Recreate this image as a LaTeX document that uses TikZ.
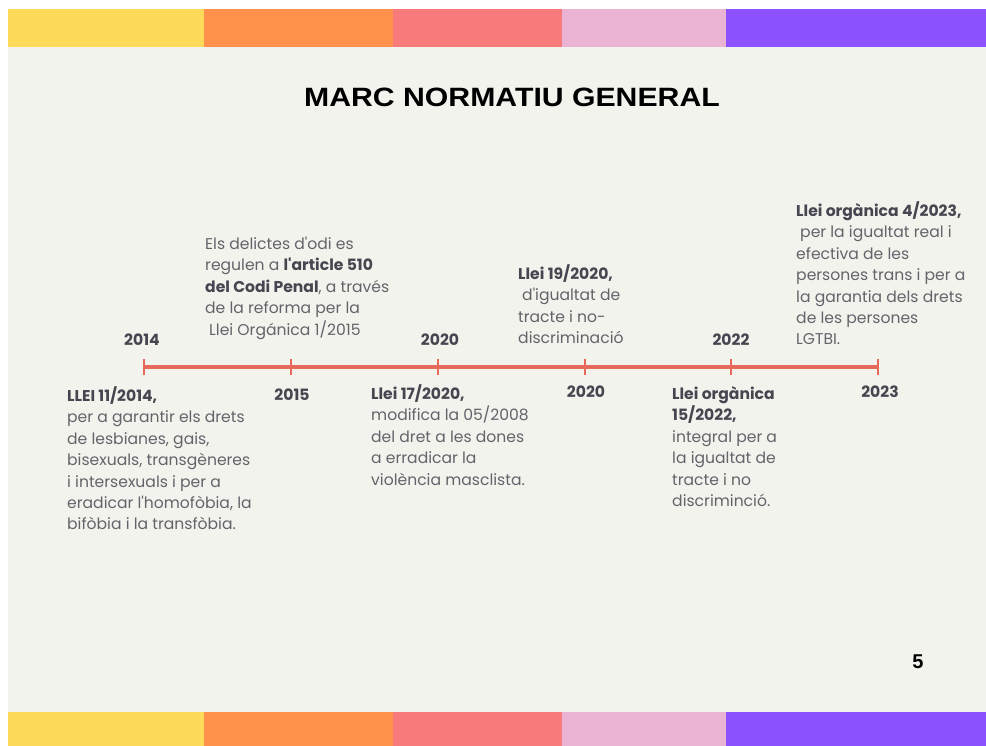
\documentclass[tikz,border=0pt]{standalone}
\usepackage{fontspec}
\setmainfont{Poppins}
\newfontfamily\titlefont[FakeStretch=1.14]{Liberation Sans}
\newfontfamily\numfont{Liberation Sans}
\definecolor{bg}{HTML}{F3F3EE}
\definecolor{cyel}{HTML}{FDDA5A}
\definecolor{cora}{HTML}{FF914D}
\definecolor{ccor}{HTML}{F87A7A}
\definecolor{cpin}{HTML}{EAB2D3}
\definecolor{cpur}{HTML}{8C52FF}
\definecolor{tline}{HTML}{E6695A}
\definecolor{body}{HTML}{65636A}
\definecolor{dark}{HTML}{47454F}
\tikzset{
  blk/.style={anchor=base west, inner sep=0pt, text=body, font=\fontsize{15.6}{21.4}\selectfont},
  yr/.style={anchor=center, inner sep=0pt, text=dark, font=\fontsize{15.6}{18}\selectfont\bfseries},
  tl/.style={draw=tline, line width=3.2pt},
  tick/.style={draw=tline, line width=2.8pt}
}
\newcommand{\hd}[1]{{\color{dark}\bfseries #1}}
\newcommand{\ap}{\textquotesingle}
\begin{document}
\begin{tikzpicture}[x=1pt,y=-1pt]
\useasboundingbox (0,0) rectangle (986,746);
\fill[white] (0,0) rectangle (986,746);
\fill[bg] (8,9) rectangle (986,746);
% top bars
\fill[cyel] (8,9) rectangle (204,47);
\fill[cora] (204,9) rectangle (393,47);
\fill[ccor] (393,9) rectangle (562,47);
\fill[cpin] (562,9) rectangle (726,47);
\fill[cpur] (726,9) rectangle (986,47);
% bottom bars
\fill[cyel] (8,712) rectangle (204,746);
\fill[cora] (204,712) rectangle (393,746);
\fill[ccor] (393,712) rectangle (562,746);
\fill[cpin] (562,712) rectangle (726,746);
\fill[cpur] (726,712) rectangle (986,746);
% title
\node[inner sep=0pt, anchor=center] (title) at (512,97) {\titlefont\bfseries\fontsize{26.5}{30}\selectfont MARC NORMATIU GENERAL};
% page number
\node[inner sep=0pt, anchor=center] (page) at (918,662) {\numfont\bfseries\fontsize{20}{22}\selectfont 5};
% timeline
\coordinate (t1) at (144,367);
\coordinate (t2) at (291,367);
\coordinate (t3) at (438,367);
\coordinate (t4) at (585,367);
\coordinate (t5) at (731,367);
\coordinate (t6) at (878,367);
\draw[tl] (t1) -- (t6);
\foreach \t in {t1,t2,t3,t4,t5,t6}{
  \draw[tick] ([yshift=-8pt]\t) -- ([yshift=8pt]\t);
}
% years
\node[yr] (y2014) at (142,340) {2014};
\node[yr] (y2015) at (292,395) {2015};
\node[yr] (y2020a) at (440,340) {2020};
\node[yr] (y2020b) at (586,392) {2020};
\node[yr] (y2022) at (731,340) {2022};
\node[yr] (y2023) at (880,392) {2023};
% blocks
\node[blk] (b1) at (205,249.5) {\begin{tabular}[t]{@{}l@{}}
Els delictes d\ap odi es\\
regulen a \hd{l\ap article 510}\\
\hd{del Codi Penal}, a través\\
de la reforma per la\\
\hspace{4pt}Llei Orgánica 1/2015
\end{tabular}};
\node[blk] (b2) at (67,401.5) {\begin{tabular}[t]{@{}l@{}}
\hd{LLEI 11/2014,}\\
per a garantir els drets\\
de lesbianes, gais,\\
bisexuals, transgèneres\\
i intersexuals i per a\\
eradicar l\ap homofòbia, la\\
bifòbia i la transfòbia.
\end{tabular}};
\node[blk] (b3) at (518,279.5) {\begin{tabular}[t]{@{}l@{}}
\hd{Llei 19/2020,}\\
\hspace{4pt}d\ap igualtat de\\
tracte i no-\\
discriminació
\end{tabular}};
\node[blk] (b4) at (371,399.5) {\begin{tabular}[t]{@{}l@{}}
\hd{Llei 17/2020,}\\
modifica la 05/2008\\
del dret a les dones\\
a erradicar la\\
violència masclista.
\end{tabular}};
\node[blk] (b5) at (672,399.5) {\begin{tabular}[t]{@{}l@{}}
\hd{Llei orgànica}\\
\hd{15/2022,}\\
integral per a\\
la igualtat de\\
tracte i no\\
discriminció.
\end{tabular}};
\node[blk] (b6) at (796,216.5) {\begin{tabular}[t]{@{}l@{}}
\hd{Llei orgànica 4/2023,}\\
\hspace{4pt}per la igualtat real i\\
efectiva de les\\
persones trans i per a\\
la garantia dels drets\\
de les persones\\
LGTBI.
\end{tabular}};
\end{tikzpicture}
\end{document}
